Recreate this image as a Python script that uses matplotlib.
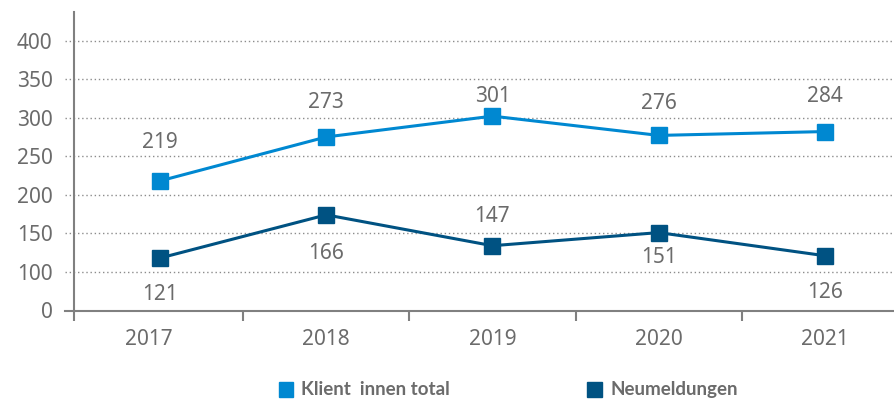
import matplotlib
matplotlib.use("Agg")
import matplotlib.pyplot as plt
import matplotlib.transforms as mtransforms
from matplotlib.patches import Rectangle

years = ["2017", "2018", "2019", "2020", "2021"]
klient_values = [218, 275, 302, 277, 282]
klient_labels = ["219", "273", "301", "276", "284"]
neu_values = [118, 174, 134, 151, 121]
neu_labels = ["121", "166", "147", "151", "126"]
yticks = [50, 100, 150, 200, 250, 300, 350, 400]
ytick_labels = ["0", "100", "150", "200", "250", "300", "350", "400"]
series_names = ["Klient  innen total", "Neumeldungen"]

c_light = "#0088d1"
c_dark = "#005282"
c_text = "#6b6b6b"
c_axis = "#808080"

plt.rcParams['font.family'] = ['Noto Sans', 'DejaVu Sans']

fig = plt.figure(figsize=(8.95, 4.0), dpi=100)
ax = fig.add_axes([74/895, 1 - 310.5/400, 1 - 74/895, (310.5 - 12)/400])

x = list(range(len(years)))
xmin = -0.517
ax.set_xlim(xmin, 4.421)
ax.set_ylim(50, 437)

blend = mtransforms.blended_transform_factory(ax.transAxes, ax.transData)
for yt in yticks[1:]:
    ax.plot([-9/821, 1], [yt, yt], transform=blend, color="#8c8c8c",
            linestyle=(0, (1, 2)), linewidth=1.0, clip_on=False, zorder=1)
ax.plot([-9/821, 1], [50, 50], transform=blend, color=c_axis,
        linewidth=1.5, clip_on=False, zorder=2)

ax.plot(x, klient_values, color=c_light, linewidth=2.2, marker='s',
        markersize=11.5, zorder=3)
ax.plot(x, neu_values, color=c_dark, linewidth=2.2, marker='s',
        markersize=11.5, zorder=3)

top_off = [38, 34, 20, 32, 35]
bot_off = [-36, -39, 29, -25, -37]
for i in range(len(years)):
    ax.annotate(klient_labels[i], (x[i], klient_values[i]), xytext=(0, top_off[i] * 0.72),
                textcoords='offset points', ha='center', va='center',
                fontsize=15, color=c_text)
    ax.annotate(neu_labels[i], (x[i], neu_values[i]), xytext=(0, bot_off[i] * 0.72),
                textcoords='offset points', ha='center', va='center',
                fontsize=15, color=c_text)

for s in ['top', 'right', 'bottom']:
    ax.spines[s].set_visible(False)
ax.spines['left'].set_color(c_axis)
ax.spines['left'].set_linewidth(1.5)

ax.set_yticks(yticks)
ax.set_yticklabels(ytick_labels)
ax.tick_params(axis='y', length=0, pad=15.5, labelsize=15, labelcolor=c_text)

ax.set_xticks(x)
ax.set_xticklabels(years)
ax.set_xticks([xmin, 0.5, 1.5, 2.5, 3.5], minor=True)
ax.tick_params(axis='x', which='major', length=0, pad=13, labelsize=15, labelcolor=c_text)
ax.tick_params(axis='x', which='minor', length=7, width=1.5, color=c_axis, direction='out')

# first year label sits a little left of its point in the original
lbl = ax.get_xticklabels()[0]
lbl.set_transform(lbl.get_transform() + mtransforms.ScaledTranslation(-0.11, 0, fig.dpi_scale_trans))

# legend
fig.patches.append(Rectangle((279/895, 1 - 397/400), 14.5/895, 15/400,
                             transform=fig.transFigure, color=c_light))
fig.text(301/895, 1 - 389.5/400, series_names[0], ha='left', va='center',
         fontsize=13.5, fontweight='bold', color=c_text, family=['Lato', 'DejaVu Sans'])
fig.patches.append(Rectangle((587/895, 1 - 397/400), 14.5/895, 15/400,
                             transform=fig.transFigure, color=c_dark))
fig.text(611/895, 1 - 389.5/400, series_names[1], ha='left', va='center',
         fontsize=13.5, fontweight='bold', color=c_text, family=['Lato', 'DejaVu Sans'])

fig.savefig("out.png", dpi=100)
